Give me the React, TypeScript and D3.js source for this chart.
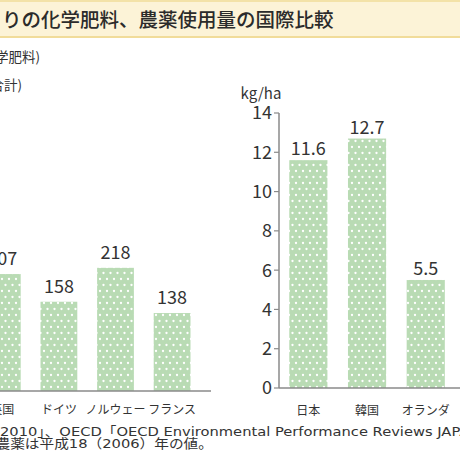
import React from "react";
import * as d3 from "d3";

const titleText = "りの化学肥料、農薬使用量の国際比較";
const leftUnit1 = "(化学肥料)";
const leftUnit2 = "(N+P+K合計)";
const rightUnit = "kg/ha";

const fertCategories = ["英国", "ドイツ", "ノルウェー", "フランス"];
const fertValues = [207, 158, 218, 138];

const pestCategories = ["日本", "韓国", "オランダ"];
const pestValues = [11.6, 12.7, 5.5];
const pestTicks = [0, 2, 4, 6, 8, 10, 12, 14];

const footLine1 = "2010」、OECD「OECD Environmental Performance Reviews JAPAN 2010」";
const footLine2 = "農薬は平成18（2006）年の値。";

const FONT = "'Noto Sans CJK JP', 'Noto Sans', sans-serif";
const FOOT_FONT = "'DejaVu Sans', 'Noto Sans CJK JP', sans-serif";
const GREEN = "#b9dbb4";
const TXT = "#333";
const AX = "#8a8a8a";

export default function App() {
  // left chart
  const xL = d3.scaleBand<string>().domain(fertCategories).range([-26, -26 + 4 * 56.6]).paddingInner(0.35).paddingOuter(0.175);
  const yL = d3.scaleLinear().domain([0, 400]).range([391, 165]);
  // right chart
  const xR = d3.scaleBand<string>().domain(pestCategories).range([279, 279 + 3 * 58.7]).paddingInner(0.35).paddingOuter(0.175);
  const yR = d3.scaleLinear().domain([0, 14]).range([388, 113]);

  return (
    <svg width={460} height={460} style={{ position: "absolute", left: 0, top: 0, background: "#fff" }} fontFamily={FONT}>
      <defs>
        <pattern id="dots" width="7" height="12" patternUnits="userSpaceOnUse">
          <rect width="7" height="12" fill={GREEN} />
          <circle cx="2" cy="3" r="1.15" fill="#fff" />
          <circle cx="5.5" cy="9" r="1.15" fill="#fff" />
        </pattern>
      </defs>
      <rect x={0} y={0} width={460} height={460} fill="#fff" />
      {/* header band */}
      <rect x={0} y={0} width={460} height={37} fill="#fcf3d7" />
      <rect x={0} y={0} width={460} height={2} fill="#f3e2a8" />
      <rect x={0} y={36} width={460} height={2} fill="#f1dc9a" />
      <text x={2} y={27} fontSize={19.5} fontWeight={500} fill="#2b2b2b">{titleText}</text>

      {/* left units */}
      <text x={40} y={62} fontSize={13.5} fill={TXT} textAnchor="end">{leftUnit1}</text>
      <text x={22} y={90} fontSize={13.5} fill={TXT} textAnchor="end">{leftUnit2}</text>

      {/* left bars */}
      {fertCategories.map((c, i) => (
        <g key={c}>
          <rect x={xL(c)} y={yL(fertValues[i])} width={xL.bandwidth()} height={yL(0) - yL(fertValues[i])} fill="url(#dots)" />
          <text x={xL(c)! + xL.bandwidth() / 2} y={yL(fertValues[i]) - 9} fontSize={18} fill={TXT} textAnchor="middle">{fertValues[i]}</text>
          <text x={xL(c)! + xL.bandwidth() / 2} y={413.5} fontSize={12} fill={TXT} textAnchor="middle">{c}</text>
        </g>
      ))}
      <line x1={0} x2={211} y1={yL(0)} y2={yL(0)} stroke={AX} strokeWidth={1.5} />

      {/* right chart */}
      <text x={261} y={99} fontSize={15} fill={TXT} textAnchor="middle">{rightUnit}</text>
      {pestCategories.map((c, i) => (
        <g key={c}>
          <rect x={xR(c)} y={yR(pestValues[i])} width={xR.bandwidth()} height={yR(0) - yR(pestValues[i])} fill="url(#dots)" />
          <text x={xR(c)! + xR.bandwidth() / 2} y={yR(pestValues[i]) - 5} fontSize={18} fill={TXT} textAnchor="middle">{pestValues[i].toFixed(1)}</text>
          <text x={xR(c)! + xR.bandwidth() / 2} y={414.5} fontSize={12} fill={TXT} textAnchor="middle">{c}</text>
        </g>
      ))}
      <line x1={279} x2={279} y1={yR(14)} y2={yR(0)} stroke={AX} strokeWidth={1.5} />
      <line x1={279} x2={460} y1={yR(0)} y2={yR(0)} stroke={AX} strokeWidth={1.5} />
      {pestTicks.map((t) => (
        <g key={t}>
          <line x1={274} x2={279} y1={yR(t)} y2={yR(t)} stroke={AX} strokeWidth={1.2} />
          <text x={272} y={yR(t)} dy="0.36em" fontSize={18} fill={TXT} textAnchor="end">{t}</text>
        </g>
      ))}

      {/* footer */}
      <g transform="scale(1.13,1)">
        <text x={0} y={436.5} fontSize={13} fill={TXT} fontFamily={FOOT_FONT}>{footLine1}</text>
        <text x={-4} y={448.5} fontSize={13} fill={TXT} fontFamily={FOOT_FONT}>{footLine2}</text>
      </g>
    </svg>
  );
}
